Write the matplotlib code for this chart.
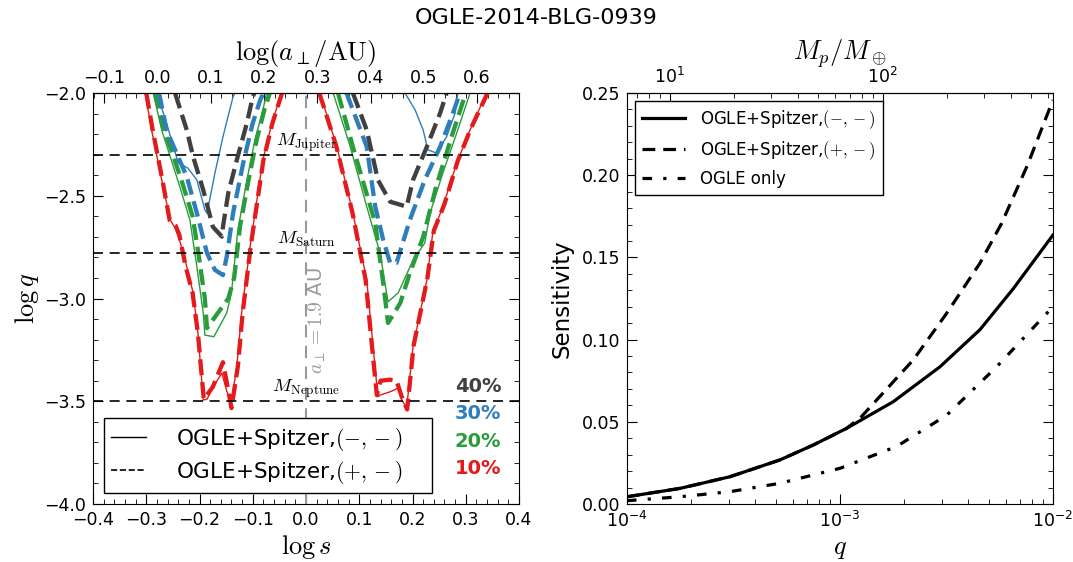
import numpy as np
import matplotlib
matplotlib.use('Agg')
import matplotlib.pyplot as plt
from matplotlib.ticker import MultipleLocator, FuncFormatter, NullFormatter, FixedLocator

plt.rcParams['mathtext.fontset'] = 'cm'
plt.rcParams['font.family'] = 'DejaVu Sans'

# %% datos

a_perp = 1.9          # AU, para el eje superior izquierdo
log_a = np.log10(a_perp)
K_mass = 10**4.8      # Mp/Mearth = q * K_mass

# lineas de masa de referencia (logq)
masas_nombre = ['Jupiter', 'Saturn', 'Neptune']
masas_logq = [-2.30, -2.78, -3.50]

# contornos de sensibilidad, cada uno: logs, logq
# 10%  (rojo)
s10_sol_L = [-0.302, -0.290, -0.271, -0.255, -0.245, -0.237, -0.224, -0.212, -0.203, -0.193, -0.186,
             -0.172, -0.158, -0.149, -0.140, -0.130, -0.121, -0.105, -0.093, -0.081, -0.064, -0.046]
q10_sol_L = [-2.00, -2.18, -2.423, -2.618, -2.66, -2.72, -2.845, -2.973, -3.168, -3.494, -3.49,
             -3.42, -3.363, -3.45, -3.502, -3.332, -3.071, -2.748, -2.535, -2.326, -2.146, -2.00]
s10_das_L = [-0.300, -0.288, -0.270, -0.256, -0.245, -0.238, -0.226, -0.213, -0.203, -0.192, -0.175,
             -0.156, -0.148, -0.140, -0.128, -0.119, -0.104, -0.092, -0.080, -0.063, -0.045]
q10_das_L = [-2.00, -2.18, -2.42, -2.62, -2.645, -2.69, -2.845, -2.973, -3.17, -3.49, -3.43,
             -3.31, -3.42, -3.533, -3.33, -3.07, -2.748, -2.535, -2.326, -2.146, -2.00]
s10_sol_R = [0.026, 0.058, 0.088, 0.114, 0.126, 0.135, 0.139, 0.158, 0.173, 0.180, 0.189,
             0.201, 0.227, 0.238, 0.257, 0.283, 0.308, 0.339]
q10_sol_R = [-2.00, -2.261, -2.584, -2.910, -3.235, -3.478, -3.470, -3.454, -3.436, -3.494, -3.533,
             -3.235, -2.910, -2.681, -2.553, -2.341, -2.180, -2.00]
s10_das_R = [0.025, 0.057, 0.087, 0.112, 0.124, 0.133, 0.140, 0.158, 0.170, 0.180, 0.190,
             0.202, 0.228, 0.240, 0.260, 0.285, 0.310, 0.341]
q10_das_R = [-2.00, -2.26, -2.58, -2.91, -3.235, -3.47, -3.40, -3.395, -3.40, -3.48, -3.54,
             -3.23, -2.90, -2.67, -2.54, -2.33, -2.17, -2.00]

# 20%  (verde)
s20_sol_L = [-0.287, -0.271, -0.255, -0.237, -0.218, -0.205, -0.193, -0.190, -0.173, -0.149,
             -0.140, -0.128, -0.111, -0.096, -0.081, -0.074]
q20_sol_L = [-2.00, -2.18, -2.310, -2.456, -2.618, -2.845, -3.071, -3.178, -3.186, -3.071,
             -2.973, -2.667, -2.423, -2.229, -2.083, -2.00]
s20_das_L = [-0.283, -0.268, -0.250, -0.232, -0.213, -0.201, -0.190, -0.186, -0.171, -0.146,
             -0.135, -0.124, -0.107, -0.092, -0.078, -0.068]
q20_das_L = [-2.00, -2.17, -2.30, -2.44, -2.60, -2.80, -3.00, -3.144, -3.09, -3.00,
             -2.90, -2.65, -2.41, -2.22, -2.08, -2.00]
s20_sol_R = [0.051, 0.083, 0.114, 0.139, 0.154, 0.173, 0.201, 0.223, 0.233, 0.257, 0.283, 0.308]
q20_sol_R = [-2.00, -2.261, -2.553, -2.779, -3.016, -2.973, -2.813, -2.730, -2.584, -2.389, -2.195, -2.00]
s20_das_R = [0.060, 0.090, 0.130, 0.145, 0.154, 0.177, 0.195, 0.220, 0.245, 0.275, 0.300]
q20_das_R = [-2.00, -2.28, -2.633, -2.925, -3.119, -3.022, -2.876, -2.70, -2.45, -2.20, -2.00]

# 30%  (azul)
s30_sol_L = [-0.280, -0.262, -0.240, -0.222, -0.205, -0.190, -0.186, -0.171, -0.156, -0.137, -0.133]
q30_sol_L = [-2.00, -2.146, -2.34, -2.365, -2.423, -2.569, -2.585, -2.389, -2.213, -2.018, -2.00]
s30_das_L = [-0.276, -0.262, -0.224, -0.205, -0.186, -0.171, -0.156, -0.149, -0.137, -0.118,
             -0.100, -0.086, -0.080]
q30_das_L = [-2.00, -2.18, -2.407, -2.584, -2.779, -2.861, -2.886, -2.797, -2.584, -2.341,
             -2.146, -2.034, -2.00]
s30_sol_R = [0.186, 0.205, 0.220, 0.229, 0.245, 0.264, 0.280, 0.285]
q30_sol_R = [-2.00, -2.083, -2.180, -2.277, -2.292, -2.213, -2.097, -2.00]
s30_das_R = [0.076, 0.114, 0.130, 0.145, 0.158, 0.170, 0.195, 0.223, 0.252, 0.276, 0.289]
q30_das_R = [-2.00, -2.261, -2.553, -2.715, -2.827, -2.827, -2.618, -2.423, -2.261, -2.097, -2.00]

# 40%  (gris), solo (+,-)
s40_das_L = [-0.246, -0.224, -0.212, -0.193, -0.175, -0.158, -0.156, -0.146, -0.130, -0.111, -0.100, -0.097]
q40_das_L = [-2.00, -2.18, -2.310, -2.472, -2.651, -2.699, -2.651, -2.487, -2.326, -2.146, -2.018, -2.00]
s40_das_R = [0.088, 0.114, 0.135, 0.158, 0.189, 0.201, 0.227, 0.252, 0.264]
q40_das_R = [-2.00, -2.180, -2.423, -2.529, -2.553, -2.423, -2.261, -2.097, -2.00]

# sensibilidad vs q (panel derecho)
logq_sol = [-4.0, -3.751, -3.516, -3.282, -3.125, -3.0, -2.969, -2.75, -2.53, -2.343, -2.186, -2.0]
sens_sol = [0.0044, 0.0095, 0.0166, 0.0268, 0.0359, 0.044, 0.046, 0.0622, 0.0835, 0.106, 0.131, 0.1636]
logq_das = [-4.0, -3.751, -3.516, -3.282, -3.125, -3.0, -2.969, -2.90, -2.656, -2.499, -2.343, -2.241,
            -2.12, -2.0]
sens_das = [0.0044, 0.0095, 0.0166, 0.0268, 0.0359, 0.044, 0.046, 0.053, 0.0876, 0.116, 0.1464, 0.1707,
            0.2060, 0.2457]
logq_ogle = [-4.0, -3.751, -3.516, -3.282, -3.0, -2.734, -2.499, -2.264, -2.0]
sens_ogle = [0.0020, 0.0044, 0.0075, 0.0126, 0.0217, 0.0350, 0.0540, 0.0835, 0.120]

# ticks del eje superior derecho (Mp/Mearth)
mp_major = [10, 100]
mp_minor = [7, 8, 9, 20, 30, 40, 50, 60, 70, 80, 90, 200, 300, 400, 500, 600]

col = {'40%': '#404040', '30%': '#2e7ebc', '20%': '#2a9c3c', '10%': '#e41a1c'}


def fmt_menos(dec):
    return FuncFormatter(lambda v, p: ('%.*f' % (dec, v)).replace('-', '\u2212'))


# %% figura

fig = plt.figure(figsize=(10.73, 5.62), dpi=100)
ax1 = fig.add_axes([0.0867, 0.1032, 0.397, 0.7313])
ax2 = fig.add_axes([0.5843, 0.1032, 0.397, 0.7313])

fig.suptitle('OGLE-2014-BLG-0939', fontsize=16, y=0.985)

tsize = 12.5

# ---- panel izquierdo ----
lw_s, lw_d = 1.0, 3.1
ax1.plot(s10_sol_L, q10_sol_L, '-', color=col['10%'], lw=lw_s)
ax1.plot(s10_sol_R, q10_sol_R, '-', color=col['10%'], lw=lw_s)
ax1.plot(s10_das_L, q10_das_L, '--', color=col['10%'], lw=lw_d)
ax1.plot(s10_das_R, q10_das_R, '--', color=col['10%'], lw=lw_d)
ax1.plot(s20_sol_L, q20_sol_L, '-', color=col['20%'], lw=lw_s)
ax1.plot(s20_sol_R, q20_sol_R, '-', color=col['20%'], lw=lw_s)
ax1.plot(s20_das_L, q20_das_L, '--', color=col['20%'], lw=lw_d)
ax1.plot(s20_das_R, q20_das_R, '--', color=col['20%'], lw=lw_d)
ax1.plot(s30_sol_L, q30_sol_L, '-', color=col['30%'], lw=lw_s)
ax1.plot(s30_sol_R, q30_sol_R, '-', color=col['30%'], lw=lw_s)
ax1.plot(s30_das_L, q30_das_L, '--', color=col['30%'], lw=lw_d)
ax1.plot(s30_das_R, q30_das_R, '--', color=col['30%'], lw=lw_d)
ax1.plot(s40_das_L, q40_das_L, '--', color=col['40%'], lw=lw_d)
ax1.plot(s40_das_R, q40_das_R, '--', color=col['40%'], lw=lw_d)

for nom, lq in zip(masas_nombre, masas_logq):
    ax1.axhline(lq, color='k', ls='--', lw=1.2, dashes=(6, 4))
    ax1.text(0.0, lq + 0.045, r'$M_{\rm %s}$' % nom, ha='center', va='baseline', fontsize=13.5)

ax1.axvline(0.0, color='#999999', ls='--', lw=1.5, dashes=(6, 4))
ax1.text(0.022, -3.11, r'$a_\perp=1.9$ AU', rotation=90, ha='center', va='center',
         color='#999999', fontsize=14)

h1, = ax1.plot([], [], '-', color='k', lw=1.0)
h2, = ax1.plot([], [], '--', color='k', lw=1.2)
leg1 = ax1.legend([h1, h2], [r'OGLE+Spitzer,$(-,-)$' + '    ', r'OGLE+Spitzer,$(+,-)$' + '    '],
                  loc='lower left', fontsize=15.5, borderaxespad=0.5,
                  fancybox=False, edgecolor='k', framealpha=1, handlelength=1.6,
                  handletextpad=1.4, borderpad=0.35, labelspacing=0.28)
leg1.get_frame().set_linewidth(1.0)

for i, lab in enumerate(['40%', '30%', '20%', '10%']):
    ax1.text(0.904, 0.285 - i * 0.066, lab, transform=ax1.transAxes, ha='center', va='center',
             color=col[lab], fontsize=14, fontweight='bold')

ax1.set_xlim(-0.4, 0.4)
ax1.set_ylim(-4.0, -2.0)
ax1.xaxis.set_major_locator(MultipleLocator(0.1))
ax1.xaxis.set_minor_locator(MultipleLocator(0.02))
ax1.yaxis.set_major_locator(MultipleLocator(0.5))
ax1.yaxis.set_minor_locator(MultipleLocator(0.1))
ax1.xaxis.set_major_formatter(fmt_menos(1))
ax1.yaxis.set_major_formatter(fmt_menos(1))
ax1.tick_params(which='both', direction='in', top=False, right=True, labelsize=tsize)
ax1.tick_params(which='major', length=7, pad=5)
ax1.tick_params(which='minor', length=3.5)
ax1.set_xlabel(r'$\log s$', fontsize=19, labelpad=3)
ax1.set_ylabel(r'$\log q$', fontsize=19, labelpad=2)

sec1 = ax1.secondary_xaxis('top', functions=(lambda s: s + log_a, lambda a: a - log_a))
sec1.xaxis.set_major_locator(MultipleLocator(0.1))
sec1.xaxis.set_minor_locator(MultipleLocator(0.02))
sec1.xaxis.set_major_formatter(fmt_menos(1))
sec1.tick_params(which='both', direction='in', labelsize=tsize)
sec1.tick_params(which='major', length=7, pad=4)
sec1.tick_params(which='minor', length=3.5)
sec1.set_xlabel(r'$\log(a_\perp/{\rm AU})$', fontsize=19, labelpad=7)

# ---- panel derecho ----
q_sol = 10**np.array(logq_sol)
q_das = 10**np.array(logq_das)
q_ogle = 10**np.array(logq_ogle)
ax2.plot(q_sol, sens_sol, '-', color='k', lw=2.3, label=r'OGLE+Spitzer,$(-,-)$')
ax2.plot(q_das, sens_das, '--', color='k', lw=2.3, dashes=(4, 2.5), label=r'OGLE+Spitzer,$(+,-)$')
ax2.plot(q_ogle, sens_ogle, color='k', lw=2.3, dashes=(3, 3.5, 1, 3.5), label='OGLE only')
ax2.set_xscale('log')
ax2.set_xlim(1e-4, 1e-2)
ax2.set_ylim(0, 0.25)
ax2.yaxis.set_major_locator(MultipleLocator(0.05))
ax2.yaxis.set_minor_locator(MultipleLocator(0.01))
ax2.yaxis.set_major_formatter(fmt_menos(2))
ax2.xaxis.set_minor_formatter(NullFormatter())
ax2.tick_params(which='both', direction='in', top=False, right=True, labelsize=tsize)
ax2.tick_params(which='major', length=7, pad=5)
ax2.tick_params(which='minor', length=3.5)
ax2.set_xlabel(r'$q$', fontsize=19, labelpad=3)
ax2.set_ylabel('Sensitivity', fontsize=16.5, labelpad=6)
leg2 = ax2.legend(loc='upper left', fontsize=12, fancybox=False, edgecolor='k',
                  framealpha=1, handlelength=2.6, borderaxespad=0.5, handletextpad=0.9)
leg2.get_frame().set_linewidth(1.0)

sec2 = ax2.secondary_xaxis('top', functions=(lambda q: q * K_mass, lambda m: m / K_mass))
sec2.xaxis.set_major_locator(FixedLocator(mp_major))
sec2.xaxis.set_minor_locator(FixedLocator(mp_minor))
sec2.xaxis.set_major_formatter(FuncFormatter(lambda v, p: r'$\mathdefault{10^{%d}}$' % round(np.log10(v))))
sec2.xaxis.set_minor_formatter(NullFormatter())
sec2.tick_params(which='both', direction='in', labelsize=tsize)
sec2.tick_params(which='major', length=7, pad=4)
sec2.tick_params(which='minor', length=3.5)
sec2.set_xlabel(r'$M_p/M_\oplus$', fontsize=19, labelpad=6)

fig.savefig('out.png', dpi=100)
